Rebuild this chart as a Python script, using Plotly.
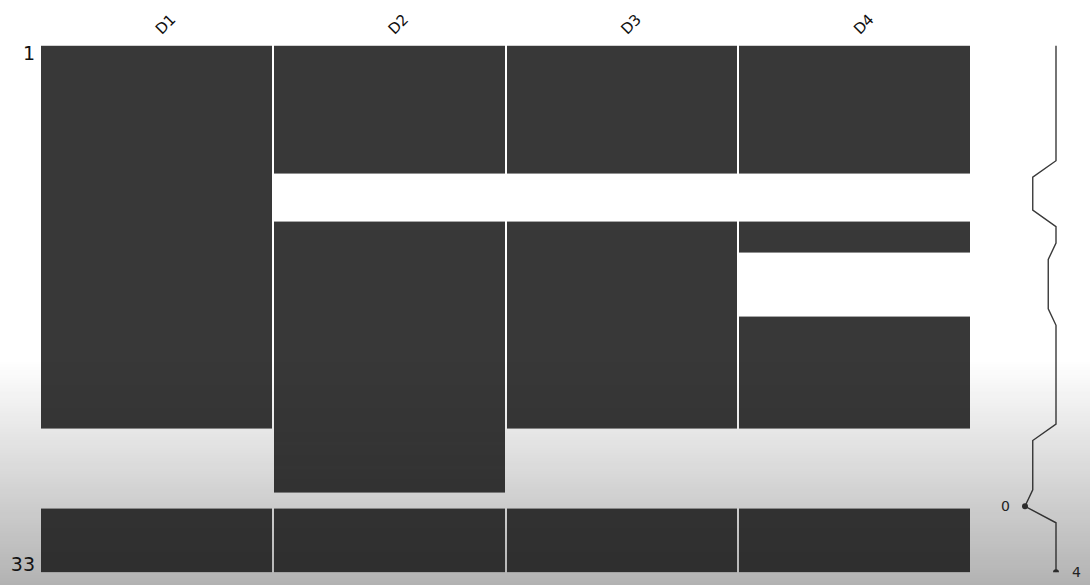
import plotly.graph_objects as go
import zlib, struct, base64

W, H = 1090, 588

columns = ["D1", "D2", "D3", "D4"]
# 1 = value present, 0 = missing (33 rows, top to bottom)
D1 = [1,1,1,1,1,1,1,1, 1,1,1, 1,1, 1,1,1,1, 1,1,1,1,1,1,1, 0,0,0,0, 0, 1,1,1,1]
D2 = [1,1,1,1,1,1,1,1, 0,0,0, 1,1, 1,1,1,1, 1,1,1,1,1,1,1, 1,1,1,1, 0, 1,1,1,1]
D3 = [1,1,1,1,1,1,1,1, 0,0,0, 1,1, 1,1,1,1, 1,1,1,1,1,1,1, 0,0,0,0, 0, 1,1,1,1]
D4 = [1,1,1,1,1,1,1,1, 0,0,0, 1,1, 0,0,0,0, 1,1,1,1,1,1,1, 0,0,0,0, 0, 1,1,1,1]
data = [D1, D2, D3, D4]
n_rows = len(D1)
row_labels = ["1", "33"]

completeness = [sum(col[i] for col in data) for i in range(n_rows)]
rows = list(range(n_rows))

z = [[(1 if data[c][r] else None) for c in range(len(columns))] for r in range(n_rows)]

CELL = "#383838"
fig = go.Figure()
fig.add_trace(go.Heatmap(
    z=z, x=list(range(len(columns))), y=rows,
    colorscale=[[0, CELL], [1, CELL]], showscale=False,
    xgap=2, hoverinfo="skip", xaxis="x", yaxis="y"))

fig.add_trace(go.Scatter(
    x=completeness, y=rows, mode="lines",
    line=dict(color="#3a3a3a", width=1.4),
    xaxis="x2", yaxis="y2", hoverinfo="skip", cliponaxis=False))

min_i = completeness.index(min(completeness))
max_i = n_rows - 1 - completeness[::-1].index(max(completeness))
fig.add_trace(go.Scatter(
    x=[completeness[min_i]], y=[min_i], mode="markers",
    marker=dict(color="#333333", size=6),
    xaxis="x2", yaxis="y2", hoverinfo="skip", cliponaxis=False))
fig.add_trace(go.Scatter(
    x=[completeness[max_i]], y=[max_i], mode="markers",
    marker=dict(color="#333333", size=6),
    xaxis="x2", yaxis="y2", hoverinfo="skip", cliponaxis=True))

def px_x(p):
    return p / W
def px_y(p):
    return 1 - p / H

top, bottom = 43, 575
left, right = 40, 971

sx0, sx4 = 1025, 1056
spp = (sx4 - sx0) / 4.0
sd0, sd1 = 995, 1085
x2range = [(sd0 - sx0) / spp, (sd1 - sx0) / spp]

annotations = [
    dict(x=completeness[min_i], y=min_i, xref="x2", yref="y2", text=str(completeness[min_i]),
         showarrow=False, xshift=-20, font=dict(size=14, color="#222222",
         family="DejaVu Sans")),
    dict(x=completeness[max_i], y=max_i, xref="x2", yref="y2", text=str(completeness[max_i]),
         showarrow=False, xshift=20, font=dict(size=14, color="#222222",
         family="DejaVu Sans")),
]

# screen-capture darkening gradient (PNG overlay)
def gradient_png(width, height, start, amax, rgb):
    raw = bytearray()
    for yy in range(height):
        t = 0.0 if yy < start else (yy - start) / (height - start)
        a = int(round(255 * amax * t))
        raw.append(0)
        for _ in range(width):
            raw.extend([rgb[0], rgb[1], rgb[2], a])
    def chunk(tag, payload):
        c = struct.pack(">I", len(payload)) + tag + payload
        return c + struct.pack(">I", zlib.crc32(tag + payload) & 0xffffffff)
    png = b"\x89PNG\r\n\x1a\n"
    png += chunk(b"IHDR", struct.pack(">IIBBBBB", width, height, 8, 6, 0, 0, 0))
    png += chunk(b"IDAT", zlib.compress(bytes(raw), 9))
    png += chunk(b"IEND", b"")
    return "data:image/png;base64," + base64.b64encode(png).decode()

overlay = gradient_png(4, H, 360, 0.34, (28, 28, 28))

fig.update_layout(
    width=W, height=H, margin=dict(l=0, r=0, t=0, b=0),
    paper_bgcolor="white", plot_bgcolor="white",
    font=dict(family="DejaVu Sans", color="#111111"),
    showlegend=False,
    xaxis=dict(domain=[px_x(left), px_x(right)], range=[-0.5, len(columns) - 0.5],
               side="top", tickmode="array", tickvals=list(range(len(columns))),
               ticktext=columns, tickangle=-45, ticks="", showgrid=False,
               zeroline=False, showline=False, tickfont=dict(size=15),
               ticklabelstandoff=4, fixedrange=True),
    yaxis=dict(domain=[px_y(bottom), px_y(top)], range=[n_rows - 0.5, -0.5],
               tickmode="array", tickvals=[0, n_rows - 1], ticktext=row_labels,
               ticks="", showgrid=False, zeroline=False, showline=False,
               tickfont=dict(size=19), ticklabelstandoff=4, fixedrange=True),
    xaxis2=dict(domain=[px_x(sd0), px_x(sd1)], range=x2range, visible=False,
                anchor="y2", fixedrange=True),
    yaxis2=dict(domain=[px_y(bottom), px_y(top)], range=[n_rows - 1, 0], visible=False,
                anchor="x2", fixedrange=True),
    annotations=annotations,
    images=[dict(source=overlay, xref="paper", yref="paper", x=0, y=1,
                 sizex=1, sizey=1, sizing="stretch", xanchor="left", yanchor="top",
                 layer="above", opacity=1)],
)

fig.write_html("out.html")
